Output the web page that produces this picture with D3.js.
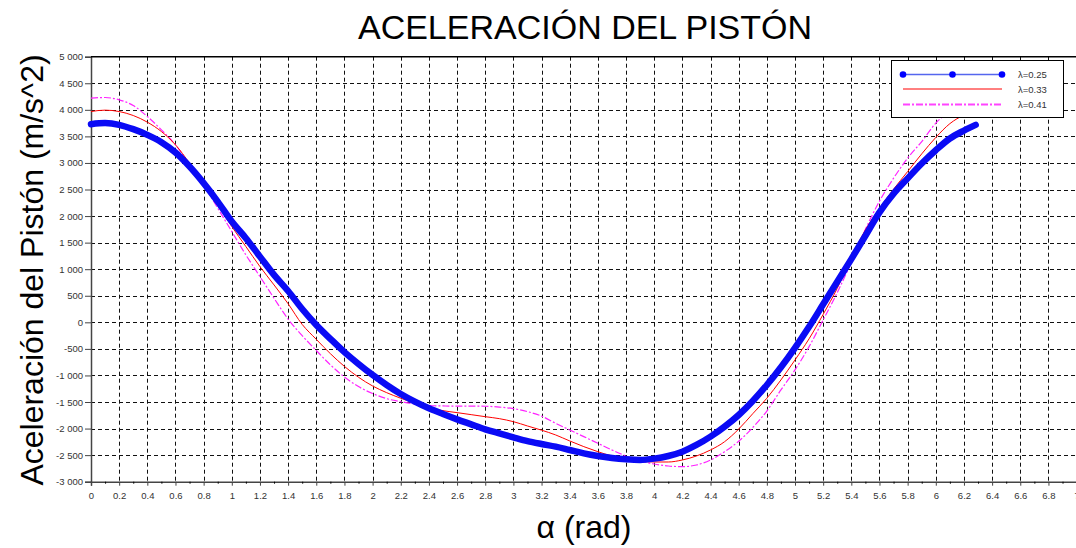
<!DOCTYPE html>
<html>
<head>
<meta charset="utf-8">
<script src="https://cdn.jsdelivr.net/npm/d3@7"></script>
<style>
  body { margin: 0; background: #fff; }
  text { font-family: "Liberation Sans", Arial, sans-serif; }
</style>
</head>
<body>
<svg id="chart"></svg>
<script>
// crank angle (rad)
var alpha = [0, 0.1, 0.2, 0.3, 0.4, 0.5, 0.6, 0.7, 0.8, 0.9,
  1.0, 1.1, 1.2, 1.3, 1.4, 1.5, 1.6, 1.7, 1.8, 1.9,
  2.0, 2.1, 2.2, 2.3, 2.4, 2.5, 2.6, 2.7, 2.8, 2.9,
  3.0, 3.1, 3.2, 3.3, 3.4, 3.5, 3.6, 3.7, 3.8, 3.9,
  4.0, 4.1, 4.2, 4.3, 4.4, 4.5, 4.6, 4.7, 4.8, 4.9,
  5.0, 5.1, 5.2, 5.3, 5.4, 5.5, 5.6, 5.7, 5.8, 5.9,
  6.0, 6.1, 6.2, 6.2832];

// lambda = 0.25
var accel025 = [3730, 3750, 3718, 3636, 3529, 3391, 3196, 2932, 2620, 2273,
  1897, 1584, 1237, 893, 590, 250, -50, -310, -560, -783,
  -991, -1179, -1349, -1493, -1618, -1725, -1826, -1920, -2014, -2090,
  -2164, -2235, -2290, -2340, -2403, -2466, -2516, -2554, -2579, -2591,
  -2566, -2516, -2435, -2309, -2152, -1964, -1744, -1480, -1180, -846,
  -480, -85, 340, 765, 1190, 1630, 2070, 2420, 2710, 2990,
  3240, 3460, 3610, 3717];

// lambda = 0.33
var accel033 = [3968, 3994, 3968, 3893, 3768, 3591, 3341, 2996, 2620, 2211,
  1803, 1426, 1049, 704, 350, -40, -320, -590, -830, -1034,
  -1198, -1324, -1429, -1524, -1606, -1663, -1700, -1738, -1776, -1813,
  -1870, -1951, -2030, -2120, -2233, -2340, -2435, -2516, -2566, -2610,
  -2629, -2629, -2591, -2516, -2403, -2247, -2010, -1720, -1429, -1085,
  -708, -310, 150, 640, 1220, 1740, 2148, 2506, 2838, 3171,
  3480, 3740, 3900, 3968];

// lambda = 0.41
var accel041 = [4220, 4232, 4188, 4081, 3874, 3623, 3341, 2964, 2587, 2149,
  1708, 1269, 861, 454, 60, -250, -530, -800, -1030, -1210,
  -1340, -1437, -1493, -1537, -1565, -1574, -1578, -1578, -1580, -1595,
  -1625, -1681, -1765, -1900, -2026, -2152, -2277, -2403, -2516, -2610,
  -2667, -2704, -2717, -2685, -2591, -2435, -2240, -1980, -1670, -1273,
  -896, -458, 45, 560, 1130, 1750, 2280, 2713, 3090, 3403,
  3749, 3980, 4150, 4220];

var xTicks = [0, 0.2, 0.4, 0.6, 0.8, 1, 1.2, 1.4, 1.6, 1.8, 2, 2.2, 2.4, 2.6, 2.8,
  3, 3.2, 3.4, 3.6, 3.8, 4, 4.2, 4.4, 4.6, 4.8, 5, 5.2, 5.4, 5.6, 5.8,
  6, 6.2, 6.4, 6.6, 6.8, 7];
var xMinor = [0.1, 0.3, 0.5, 0.7, 0.9, 1.1, 1.3, 1.5, 1.7, 1.9, 2.1, 2.3, 2.5, 2.7, 2.9,
  3.1, 3.3, 3.5, 3.7, 3.9, 4.1, 4.3, 4.5, 4.7, 4.9, 5.1, 5.3, 5.5, 5.7, 5.9,
  6.1, 6.3, 6.5, 6.7, 6.9];
var yTicks = [-3000, -2500, -2000, -1500, -1000, -500, 0, 500, 1000, 1500,
  2000, 2500, 3000, 3500, 4000, 4500, 5000];

var seriesNames = ["λ=0.25", "λ=0.33", "λ=0.41"];

var width = 1076, height = 548;
var plotL = 91, plotR = 1076.6, plotT = 56.7, plotB = 481.7;

var svg = d3.select("#chart").attr("width", width).attr("height", height);

var x = d3.scaleLinear().domain([0, 7]).range([plotL, plotR]);
var y = d3.scaleLinear().domain([-3000, 5000]).range([plotB, plotT]);

var loc = d3.formatLocale({decimal: ".", thousands: " ", grouping: [3], currency: ["", ""], minus: "-"});
var yFmt = loc.format(",");

// grid
var grid = svg.append("g").attr("class", "grid")
  .attr("stroke", "#111").attr("stroke-width", 1).attr("stroke-dasharray", "4,3");
grid.selectAll("line.h")
  .data(yTicks.filter(function (d) { return d > -3000 && d < 5000; }))
  .enter().append("line").attr("class", "h")
  .attr("x1", plotL).attr("x2", plotR)
  .attr("y1", function (d) { return Math.round(y(d)) + 0.5; })
  .attr("y2", function (d) { return Math.round(y(d)) + 0.5; });
grid.selectAll("line.v")
  .data(xTicks.filter(function (d) { return d > 0 && d < 7; }))
  .enter().append("line").attr("class", "v")
  .attr("y1", plotT).attr("y2", plotB)
  .attr("x1", function (d) { return Math.round(x(d)) + 0.5; })
  .attr("x2", function (d) { return Math.round(x(d)) + 0.5; });

// axes
var xAxis = svg.append("g").attr("transform", "translate(0," + plotB + ")")
  .call(d3.axisBottom(x).tickValues(xTicks).tickSize(4).tickPadding(7)
    .tickFormat(function (d) { return String(+d.toFixed(1)); }));
svg.append("g").attr("transform", "translate(0," + plotB + ")")
  .call(d3.axisBottom(x).tickValues(xMinor).tickSize(2).tickFormat(""))
  .call(function (g) { g.select(".domain").remove(); });

var yAxis = svg.append("g").attr("transform", "translate(" + plotL + ",0)")
  .call(d3.axisLeft(y).tickValues(yTicks).tickSize(6).tickPadding(2).tickFormat(yFmt));

[xAxis, yAxis].forEach(function (g) {
  g.select(".domain").attr("stroke", "#444").attr("stroke-width", 1.5);
  g.selectAll(".tick line").attr("stroke", "#444");
  g.selectAll(".tick text").attr("fill", "#333").style("font-size", "9.5px")
    .style("font-family", "'Liberation Sans', Arial, sans-serif");
});

svg.append("line").attr("x1", plotL).attr("x2", plotR).attr("y1", plotT).attr("y2", plotT)
  .attr("stroke", "#000").attr("stroke-width", 1.5);

// curves
var line = function (vals) {
  return d3.line()
    .x(function (d, i) { return x(alpha[i]); })
    .y(function (d) { return y(d); })
    .curve(d3.curveMonotoneX)(vals);
};

svg.append("path").attr("d", line(accel041))
  .attr("fill", "none").attr("stroke", "#ff22ff").attr("stroke-width", 1.2)
  .attr("stroke-dasharray", "7,2,2,2");
svg.append("path").attr("d", line(accel033))
  .attr("fill", "none").attr("stroke", "#ff0000").attr("stroke-width", 1);
svg.append("path").attr("d", line(accel025))
  .attr("fill", "none").attr("stroke", "#0a0af5").attr("stroke-width", 6.5)
  .attr("stroke-linejoin", "round").attr("stroke-linecap", "round");

// legend
var legend = svg.append("g").attr("class", "legend");
legend.append("rect").attr("x", 891.5).attr("y", 60.5).attr("width", 172).attr("height", 57)
  .attr("fill", "#fff").attr("stroke", "#000").attr("stroke-width", 1);

var legY = [74.5, 89, 104.5];
legend.append("line").attr("x1", 903).attr("x2", 1002).attr("y1", legY[0]).attr("y2", legY[0])
  .attr("stroke", "#5566ee").attr("stroke-width", 1.5);
legend.selectAll("circle").data([903, 952.5, 1002]).enter().append("circle")
  .attr("cx", function (d) { return d; }).attr("cy", legY[0]).attr("r", 3.3)
  .attr("fill", "#0000ff");
legend.append("line").attr("x1", 903).attr("x2", 1002).attr("y1", legY[1]).attr("y2", legY[1])
  .attr("stroke", "#ff0000").attr("stroke-width", 1);
legend.append("line").attr("x1", 903).attr("x2", 1002).attr("y1", legY[2]).attr("y2", legY[2])
  .attr("stroke", "#ff44ff").attr("stroke-width", 2).attr("stroke-dasharray", "7,2,2,2");
legend.selectAll("text").data(seriesNames).enter().append("text")
  .attr("x", 1018).attr("y", function (d, i) { return legY[i] + 3.5; })
  .style("font-size", "9.5px").attr("fill", "#333")
  .text(function (d) { return d; });

// titles
svg.append("text").attr("x", 585).attr("y", 39).attr("text-anchor", "middle")
  .style("font-size", "34px").attr("fill", "#000").text("ACELERACIÓN DEL PISTÓN");
svg.append("text").attr("transform", "translate(43,270) rotate(-90)").attr("text-anchor", "middle")
  .style("font-size", "32px").attr("fill", "#000").text("Aceleración del Pistón (m/s^2)");
svg.append("text").attr("x", 584).attr("y", 538).attr("text-anchor", "middle")
  .style("font-size", "32px").attr("fill", "#000").text("α (rad)");
</script>
</body>
</html>
